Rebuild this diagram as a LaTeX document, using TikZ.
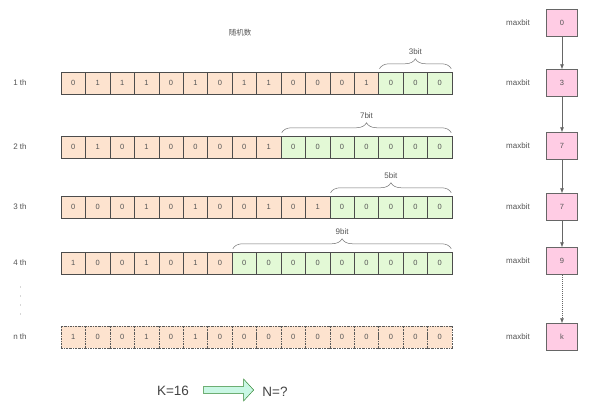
\documentclass[tikz,border=0pt]{standalone}
\usepackage{fontspec}
\setmainfont{Liberation Sans}
\newfontfamily\cjk{Noto Sans CJK SC}
\usetikzlibrary{decorations.pathreplacing,shapes.arrows,arrows.meta}
\definecolor{peach}{HTML}{FDE3CF}
\definecolor{mint}{HTML}{E3F9D6}
\definecolor{pinkbox}{HTML}{FFCCE4}
\definecolor{arrowfill}{HTML}{C9F7E4}
\definecolor{txt}{HTML}{555555}
\tikzset{
  cellbase/.style={minimum width=24.44pt, minimum height=22pt, inner sep=0pt, anchor=center,
    font=\fontsize{7.5}{8}\selectfont, text=txt, line width=0.5pt},
  ocell/.style={cellbase, draw=black!70, fill=peach},
  gcell/.style={cellbase, draw=black!70, fill=mint},
  dcell/.style={cellbase, draw=black!65, fill=peach, dash pattern=on 2pt off 1pt on 0.6pt off 1pt},
  rowlabel/.style={font=\fontsize{8}{9}\selectfont, text=txt},
  bitlabel/.style={font=\fontsize{8}{9}\selectfont, text=txt},
  bracestyle/.style={decorate, decoration={brace, amplitude=10pt}, draw=black!55, line width=0.5pt},
  mbox/.style={draw=black!60, fill=pinkbox, minimum width=31pt, minimum height=27pt, inner sep=0pt,
    font=\fontsize{7.5}{8}\selectfont, text=txt, line width=0.5pt},
  mlabel/.style={font=\fontsize{8}{9}\selectfont, text=txt},
  conn/.style={draw=black!60, line width=0.6pt, -{Latex[length=5pt,width=4pt]}},
}
\begin{document}
\begin{tikzpicture}[x=1pt,y=-1pt]
\useasboundingbox (0,0) rectangle (591,404);
\fill[white] (0,0) rectangle (591,404);

\node[font=\fontsize{7.5}{9}\selectfont\cjk, text=txt] (title) at (240,33) {随机数};

\def\cw{24.44}
\newcommand{\bitrow}[4]{%
  \foreach \b [count=\i] in {#3} {
    \pgfmathtruncatemacro{\isg}{\i>16-#4 ? 1 : 0}
    \ifnum\isg=1
      \node[gcell] (#1c\i) at ({61+(\i-0.5)*\cw},#2) {\b};
    \else
      \node[ocell] (#1c\i) at ({61+(\i-0.5)*\cw},#2) {\b};
    \fi
  }
}
\bitrow{ra}{83}{0,1,1,1,0,1,0,1,1,0,0,0,1,0,0,0}{3}
\bitrow{rb}{147}{0,1,0,1,0,0,0,0,1,0,0,0,0,0,0,0}{7}
\bitrow{rc}{207}{0,0,0,1,0,1,0,0,1,0,1,0,0,0,0,0}{5}
\bitrow{rd}{263}{1,0,0,1,0,1,0,0,0,0,0,0,0,0,0,0}{9}
\foreach \b [count=\i] in {1,0,0,1,0,1,0,0,0,0,0,0,0,0,0,0}
  \node[dcell] (rnc\i) at ({61+(\i-0.5)*\cw},337) {\b};

\node[rowlabel] (la) at (20,83) {1 th};
\node[rowlabel] (lb) at (20,147) {2 th};
\node[rowlabel] (lc) at (20,207) {3 th};
\node[rowlabel] (ld) at (20,263) {4 th};
\node[rowlabel] (ln) at (20,337) {n th};
\foreach \yy in {287,296,305,314} \fill[txt] (20.5,\yy) circle (0.45pt);

% braces
\draw[bracestyle] ([xshift=1pt,yshift=3pt]rac14.north west) -- ([xshift=-1pt,yshift=3pt]rac16.north east)
  node[midway, above=11pt, bitlabel] (ba) {3bit};
\draw[bracestyle] ([xshift=1pt,yshift=3pt]rbc10.north west) -- ([xshift=-1pt,yshift=3pt]rbc16.north east)
  node[midway, above=11pt, bitlabel] (bb) {7bit};
\draw[bracestyle] ([xshift=1pt,yshift=3pt]rcc12.north west) -- ([xshift=-1pt,yshift=3pt]rcc16.north east)
  node[midway, above=11pt, bitlabel] (bc) {5bit};
\draw[bracestyle] ([xshift=1pt,yshift=3pt]rdc8.north west) -- ([xshift=-1pt,yshift=3pt]rdc16.north east)
  node[midway, above=11pt, bitlabel] (bd) {9bit};

% right column
\node[mbox] (m0) at (562,22.7) {0};
\node[mbox] (m1) at (562,83) {3};
\node[mbox] (m2) at (562,146) {7};
\node[mbox] (m3) at (562,207) {7};
\node[mbox] (m4) at (562,261) {9};
\node[mbox] (m5) at (562,337) {k};
\foreach \i/\yy in {0/22.7,1/83,2/146,3/207,4/261,5/337}
  \node[mlabel] (ml\i) at (518,\yy) {maxbit};
\draw[conn] (m0) -- (m1);
\draw[conn] (m1) -- (m2);
\draw[conn] (m2) -- (m3);
\draw[conn] (m3) -- (m4);
\draw[conn, dash pattern=on 1.5pt off 1pt on 0.5pt off 1pt] (m4) -- (m5);

% bottom
\node[font=\fontsize{13.5}{15}\selectfont, text=txt!80!black] (k) at (173,391) {K=16};
\node[single arrow, draw=black!45!green!60!gray, fill=arrowfill, line width=0.5pt,
  minimum height=50pt, minimum width=22pt, inner xsep=0pt, inner ysep=3.2pt,
  single arrow tip angle=95] (arr) at (227,390) {};
\node[font=\fontsize{13.5}{15}\selectfont, text=txt!80!black] (n) at (275,392) {N=?};
\end{tikzpicture}
\end{document}
